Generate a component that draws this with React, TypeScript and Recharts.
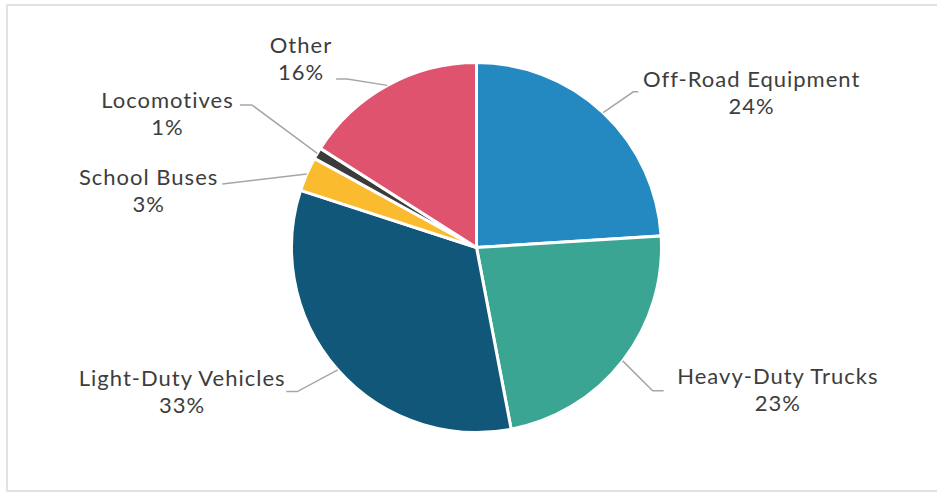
import React from 'react';
import { PieChart, Pie, Cell } from 'recharts';

const categories = ['Off-Road Equipment', 'Heavy-Duty Trucks', 'Light-Duty Vehicles', 'School Buses', 'Locomotives', 'Other'];
const shares = [24, 23, 33, 3, 1, 16];
const percentLabels = ['24%', '23%', '33%', '3%', '1%', '16%'];
const colors = ['#2389c0', '#3aa593', '#10577a', '#fbbb2e', '#3b3b3c', '#e0536e'];

// label placement (style config): clockwise angle nudge (deg), elbow radial extension,
// horizontal segment length, gap to text, vertical shift of text block
const labelLayout = [
  { nudge: 2, ext: 36, hor: 5, gap: 5, dy: 0 },
  { nudge: 1.3, ext: 42, hor: 11, gap: 13, dy: -1.5 },
  { nudge: 2.6, ext: 45, hor: 11, gap: 0, dy: -1 },
  { nudge: -9.4, ext: 77, hor: 0, gap: 4, dy: 5.5 },
  { nudge: 1.8, ext: 81, hor: 12, gap: 6, dy: 8.5 },
  { nudge: -8.7, ext: 27.5, hor: 11, gap: 4, dy: -20.5 },
];

const data = categories.map((name, i) => ({ name, value: shares[i], pct: percentLabels[i] }));

const FONT_SIZE = 22;
const LETTER_SPACING = 1;
const FONT_FAMILY = 'Lato';
const LINE_GAP = 27;

let ctx: CanvasRenderingContext2D | null = null;
function measure(t: string): number {
  if (!ctx) ctx = document.createElement('canvas').getContext('2d');
  if (!ctx) return t.length * FONT_SIZE * 0.55;
  ctx.font = `${FONT_SIZE}px ${FONT_FAMILY}`;
  return ctx.measureText(t).width + LETTER_SPACING * t.length;
}

const RAD = Math.PI / 180;

const renderLabel = (props: any) => {
  const { cx, cy, midAngle, outerRadius, index } = props;
  const lay = labelLayout[index];
  const cwMid = 90 - midAngle;
  const cwElbow = cwMid + lay.nudge;
  const sx = cx + outerRadius * Math.sin(cwMid * RAD);
  const sy = cy - outerRadius * Math.cos(cwMid * RAD);
  const er = outerRadius + lay.ext;
  const ex = cx + er * Math.sin(cwElbow * RAD);
  const ey = cy - er * Math.cos(cwElbow * RAD);
  const norm = ((cwElbow % 360) + 360) % 360;
  const right = norm < 180;
  const endX = right ? ex + lay.hor : ex - lay.hor;
  const w = Math.max(measure(categories[index]), measure(percentLabels[index]));
  const centerX = right ? endX + lay.gap + w / 2 : endX - lay.gap - w / 2;
  const centerY = ey + lay.dy;
  const textProps = {
    x: centerX,
    textAnchor: 'middle' as const,
    dominantBaseline: 'central' as const,
    fill: '#3d3d3d',
    fontFamily: FONT_FAMILY,
    fontSize: FONT_SIZE,
    style: { letterSpacing: `${LETTER_SPACING}px` },
  };
  return (
    <g key={`lbl-${index}`}>
      <polyline
        points={`${sx},${sy} ${ex},${ey} ${endX},${ey}`}
        fill="none"
        stroke="#a6a6a6"
        strokeWidth={1.5}
      />
      <text {...textProps} y={centerY - LINE_GAP / 2}>
        {categories[index]}
      </text>
      <text {...textProps} y={centerY + LINE_GAP / 2}>
        {percentLabels[index]}
      </text>
    </g>
  );
};

export default function App() {
  return (
    <div style={{ position: 'absolute', left: 0, top: 0, width: 937, height: 493, background: '#fff', overflow: 'hidden' }}>
      <div
        style={{
          position: 'absolute',
          left: 6,
          top: 4,
          width: 940,
          height: 488,
          border: '2px solid #e2e2e2',
          boxSizing: 'border-box',
        }}
      />
      <div style={{ position: 'absolute', left: 0, top: 0 }}>
        <PieChart width={937} height={493} margin={{ top: 0, right: 0, bottom: 0, left: 0 }}>
          <Pie
            data={data}
            dataKey="value"
            nameKey="name"
            cx={476.5}
            cy={247.5}
            outerRadius={185}
            startAngle={90}
            endAngle={-270}
            stroke="#ffffff"
            strokeWidth={3}
            label={renderLabel}
            labelLine={false}
            isAnimationActive={false}
          >
            {data.map((d, i) => (
              <Cell key={d.name} fill={colors[i]} />
            ))}
          </Pie>
        </PieChart>
      </div>
    </div>
  );
}
